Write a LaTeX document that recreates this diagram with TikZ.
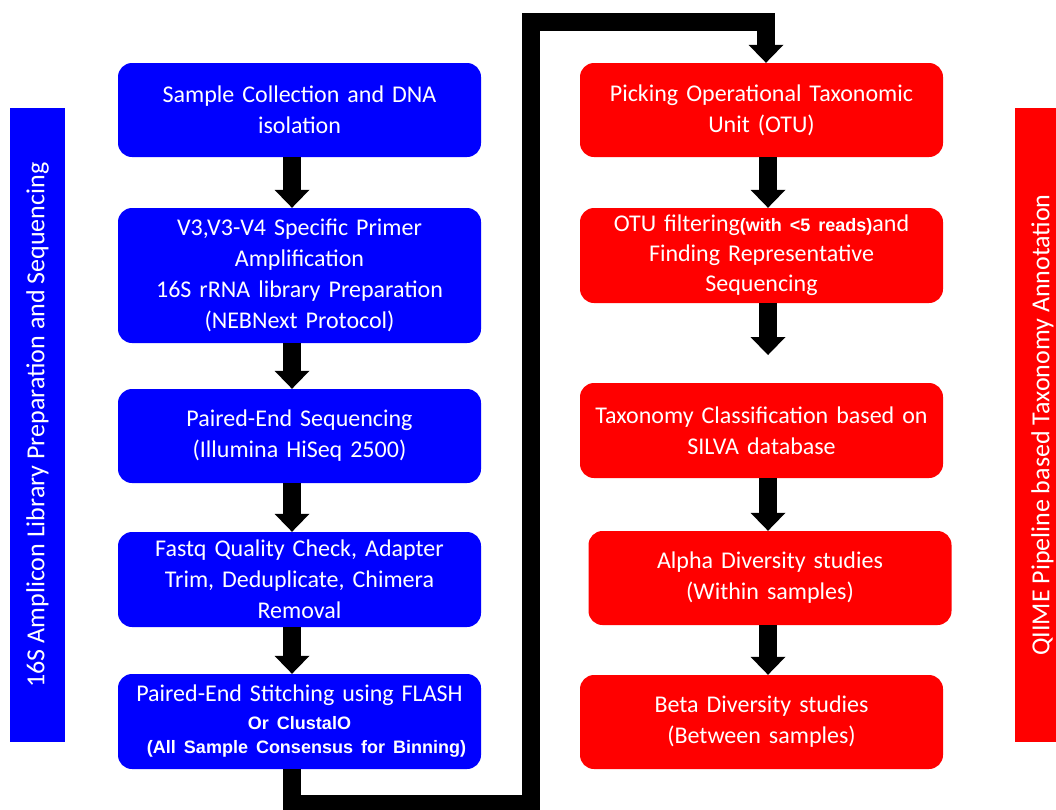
\documentclass[tikz,border=0pt]{standalone}
\usepackage{fontspec}
\setmainfont{Carlito}
\newfontfamily\arialfont{Liberation Sans}
\usetikzlibrary{arrows.meta,calc}
\definecolor{boxblue}{RGB}{0,0,255}
\definecolor{boxred}{RGB}{255,0,0}
\newcommand{\boldsmall}[1]{{\arialfont\bfseries\fontsize{18}{24}\selectfont #1}}
\begin{document}
\begin{tikzpicture}[x=1pt,y=-1pt,
  box/.style={rounded corners=14pt, minimum width=363pt, text width=355pt,
    align=center, text=white, inner sep=0pt,
    font=\fontsize{24}{31}\selectfont},
  bbox/.style={box, fill=boxblue},
  rbox/.style={box, fill=boxred},
  sidebar/.style={rotate=90, inner sep=0pt, minimum width=634pt,
    minimum height=55pt, text=white, font=\fontsize{26}{30}\selectfont},
  flow/.style={line width=18pt, line join=miter,
    -{Triangle[length=18pt,width=35pt,line width=0pt]}}
]
\useasboundingbox (0,0) rectangle (1056,809);

% side bars
\node[sidebar, fill=boxblue] (lbar) at (37.5,425) {16S Amplicon Library Preparation and Sequencing};
\node[sidebar, fill=boxred] (rbar) at (1042.5,425) {QIIME Pipeline based Taxonomy Annotation};

% left column
\node[bbox, minimum height=94pt] (b1) at (299.5,110) {Sample Collection and DNA\\isolation};
\node[bbox, minimum height=135pt] (b2) at (299.5,275.5) {V3,V3-V4 Specific Primer\hspace*{34pt}\\Amplification\\16S rRNA library Preparation\\(NEBNext Protocol)};
\node[bbox, minimum height=94pt] (b3) at (299.5,436) {Paired-End Sequencing\\(Illumina HiSeq 2500)};
\node[bbox, minimum height=95pt] (b4) at (299.5,579.5) {Fastq Quality Check, Adapter\\Trim, Deduplicate, Chimera\\Removal};
\node[bbox, minimum height=95pt] (b5) at (299.5,721.5) {Paired-End Stitching using FLASH\\[-3pt]\boldsmall{Or ClustalO\hspace*{18pt}}\\[-7pt]\boldsmall{\hspace*{14pt}(All Sample Consensus for Binning)}};

% right column
\node[rbox, minimum height=94pt] (r1) at (761.5,110) {Picking Operational Taxonomic\\Unit (OTU)};
\node[rbox, minimum height=95pt] (r2) at (761.5,255.5) {OTU filtering{\arialfont\bfseries\fontsize{18}{20}\selectfont(with <5 reads)}and\\[-1pt]Finding Representative\\[-1pt]Sequencing};
\node[rbox, minimum height=95pt] (r3) at (761.5,430.5) {Taxonomy Classification based on\\SILVA database};
\node[rbox, minimum height=94pt] (r4) at (770,578) {Alpha Diversity studies\\(Within samples)};
\node[rbox, minimum height=94pt] (r5) at (761.5,722) {Beta Diversity studies\\(Between samples)};

% arrow axes
\coordinate (lx) at (292,0);
\coordinate (rx) at (768,0);

\draw[flow] (b1.south -| lx) -- (b2.north -| lx);
\draw[flow] (b2.south -| lx) -- (b3.north -| lx);
\draw[flow] (b3.south -| lx) -- (b4.north -| lx);
\draw[flow] (b4.south -| lx) -- (b5.north -| lx);

\coordinate (r3in) at (768,355);
\draw[flow] (r1.south -| rx) -- (r2.north -| rx);
\draw[flow] (r2.south -| rx) -- (r3in);
\draw[flow] (r3.south -| rx) -- (r4.north -| rx);
\draw[flow] (r4.south -| rx) -- (r5.north -| rx);

% long connector from left column to right column
\coordinate (c1) at (292,804);
\coordinate (c2) at (530.5,804);
\coordinate (c3) at (530.5,22);
\coordinate (c4) at (766,22);
\draw[flow] (b5.south -| lx) -- (c1) -- (c2) -- (c3) -- (c4) -- (r1.north -| c4);
\end{tikzpicture}
\end{document}
